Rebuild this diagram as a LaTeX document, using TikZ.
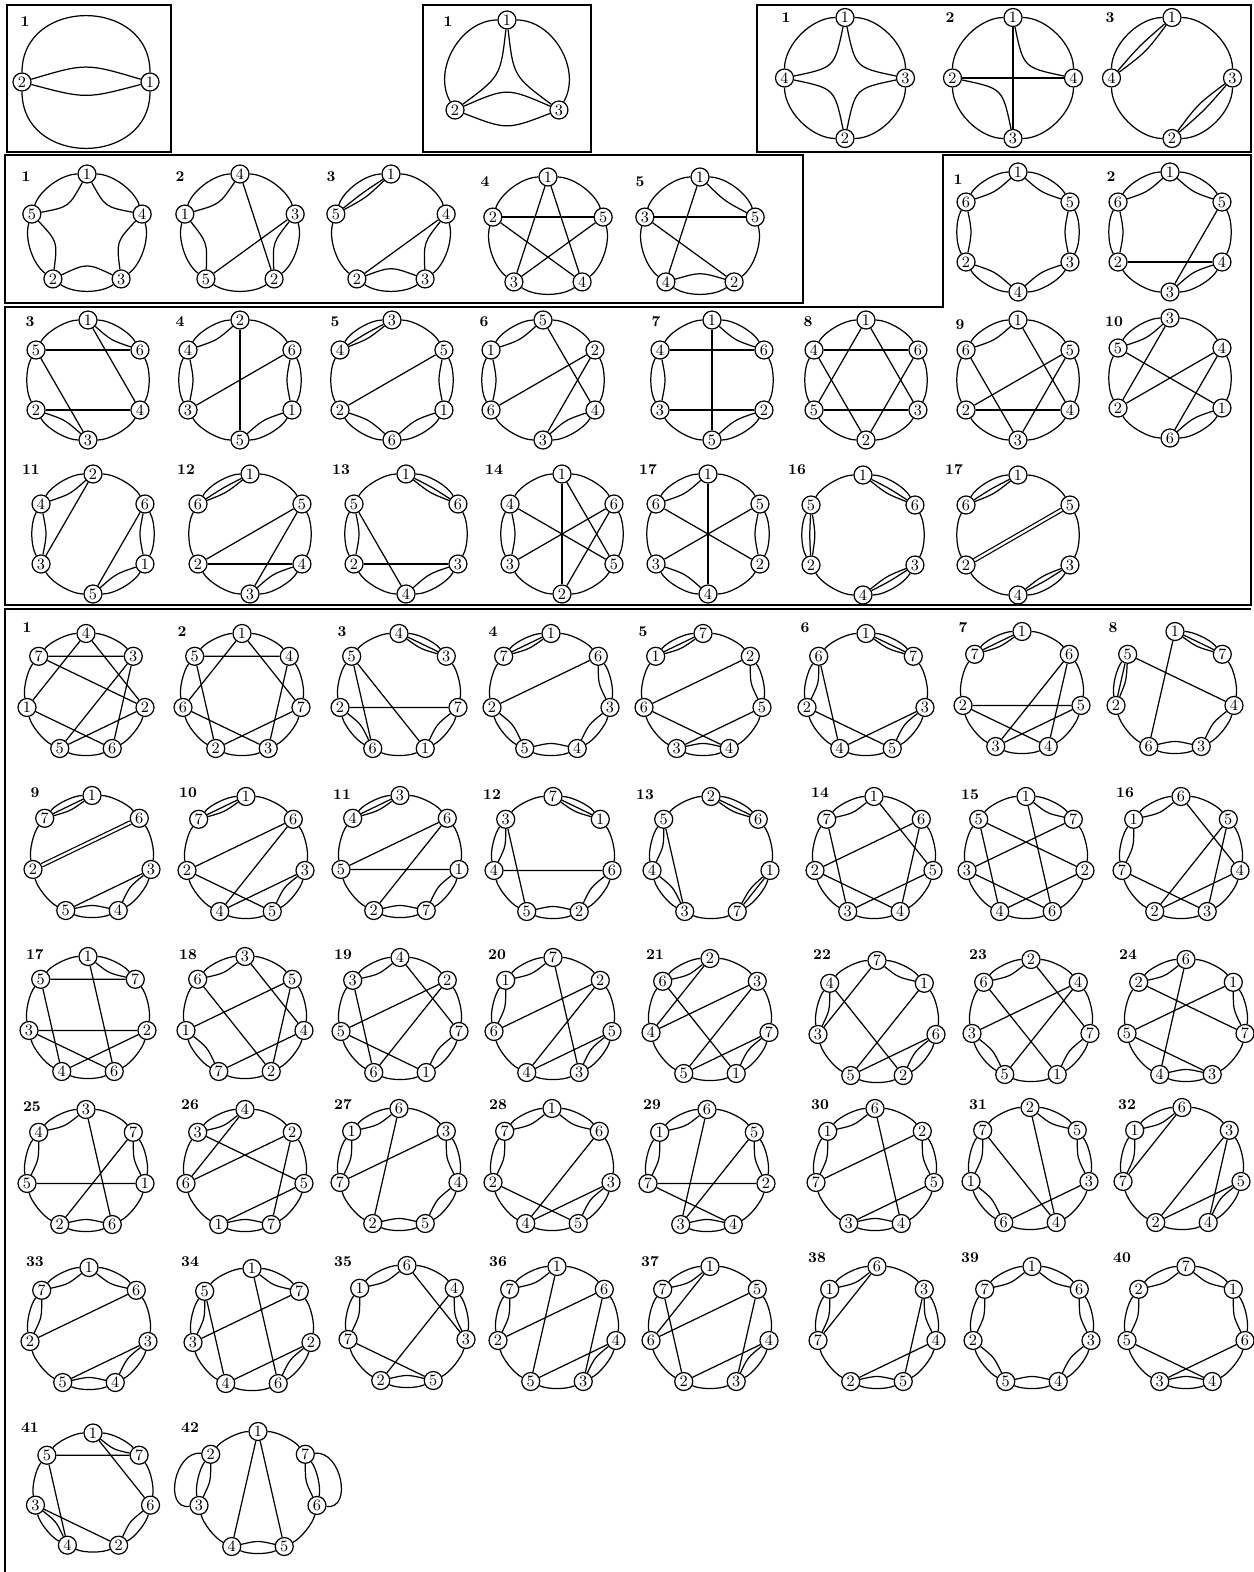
\documentclass[tikz,border=0pt]{standalone}
\usepackage{tikz}
\usetikzlibrary{calc}

\tikzset{
  vtx/.style={circle, draw, fill=white, line width=0.7pt, inner sep=0pt, minimum size=0.36cm, font=\fontsize{9}{9}\selectfont},
  edge/.style={line width=0.7pt},
  dchord/.style={edge, double, double distance=0.045cm},
  num/.style={font=\fontsize{8.5}{9}\selectfont\bfseries},
  frame/.style={line width=0.8pt}
}
\def\sa{-90}

% vertices round a circle, clockwise from the top, and the arcs between them
% #1 arc left out (after that position), #2 name, #3 x, #4 y, #5 radius, #6 labels
\newcommand{\cyc}[6][-1]{%
  \coordinate (#2) at (#3,#4);
  \foreach \v [count=\k] in {#6} {\xdef\nv{\k}}
  \foreach \v [count=\k from 0] in {#6}
    \node[vtx, alias=#2-p\k] (#2-\v) at ($(#2)+({\sa+\k*360/\nv}:#5)$) {\v};
  \pgfmathsetmacro\st{360/\nv}
  \pgfmathsetmacro\ta{atan(4/3*tan(90/\nv))}
  \pgfmathsetmacro\rr{#5*sqrt(1+(4/3*tan(90/\nv))^2)}
  \pgfmathtruncatemacro\last{\nv-1}
  \foreach \k in {0,...,\last} {
    \pgfmathtruncatemacro\j{mod(\k+1,\nv)}
    \ifnum\k=#1\relax\else\ifnum#1<-1\relax\else
      \draw[edge] (#2-p\k) .. controls ($(#2)+({\sa+\k*\st+\ta}:\rr)$)
        and ($(#2)+({\sa+(\k+1)*\st-\ta}:\rr)$) .. (#2-p\j);
    \fi\fi
  }
}
% inner arc between two vertices (negative depth bends outwards)
\newcommand{\lens}[3][0.12cm]{%
  \foreach \a/\b in {#3} {
    \coordinate (lm) at ($(#2-\a)!0.5!(#2-\b)$);
    \draw[edge] (#2-\a) .. controls ($(lm)!#1!(#2)$) .. (#2-\b);
  }
}
\newcommand{\trip}[3][0.09cm]{\lens[-0.03cm]{#2}{#3}\lens[#1]{#2}{#3}}
\newcommand{\chords}[2]{\foreach \a/\b in {#2} \draw[edge] (#1-\a) -- (#1-\b);}

\begin{document}
\begin{tikzpicture}[x=0.02cm, y=-0.02cm]
\fill[white] (0,0) rectangle (1254,1572);
\useasboundingbox (0,0) rectangle (1254,1572);

% frames
\draw[frame] (7,5) rectangle (171,152);
\draw[frame] (423,5) rectangle (591,152);
\draw[frame] (757,5) rectangle (1251,152);
\draw[frame] (5,155) rectangle (803,303);
\draw[frame] (943,155) -- (1251,155) -- (1251,605) -- (5,605) -- (5,307) -- (943,307) -- cycle;
\draw[frame] (5,1572) -- (5,609) -- (1251,609);

% two vertices
\node[num] (n2-no) at (25,22) {1};
\def\sa{0}
\cyc{n2}{86}{82}{64}{1,2}
\def\sa{-90}
\draw[edge] (n2-2) .. controls (86,63) .. (n2-1);
\draw[edge] (n2-2) .. controls (86,99) .. (n2-1);

% three vertices
\node[num] (n3-no) at (448,22) {1};
\cyc[1]{n3}{507}{80}{60}{1,3,2}
\lens[-0.4cm]{n3}{3/2}
\lens[0.45cm]{n3}{1/3,3/2,2/1}

% four vertices
\node[num] (q1-no) at (786,18) {1};
\cyc{q1}{845}{78}{60.5}{1,3,2,4}
\lens[0.56cm]{q1}{1/3,3/2,2/4,4/1}
\node[num] (q2-no) at (950,18) {2};
\cyc{q2}{1013}{78}{60.5}{1,4,3,2}
\lens[0.56cm]{q2}{1/4,2/3}
\chords{q2}{1/3,2/4}
\node[num] (q3-no) at (1110,18) {3};
\cyc{q3}{1172}{78}{60.5}{1,3,2,4}
\lens[-0.06cm]{q3}{4/1,3/2}
\lens[0.12cm]{q3}{4/1,3/2}

% five vertices
\node[num] (f1-no) at (26,177) {1};
\cyc{f1}{87}{232}{58}{1,4,3,2,5}
\lens[0.32cm]{f1}{1/4,4/3,3/2,2/5,5/1}
\node[num] (f2-no) at (180,177) {2};
\cyc{f2}{240}{232}{58}{4,3,2,5,1}
\lens[0.25cm]{f2}{1/4,1/5,3/2}
\chords{f2}{4/2,3/5}
\node[num] (f3-no) at (331,177) {3};
\cyc{f3}{391}{232}{58}{1,4,3,2,5}
\trip{f3}{1/5}
\lens[0.25cm]{f3}{4/3,3/2}
\chords{f3}{4/2}
\node[num] (f4-no) at (485,182) {4};
\cyc{f4}{548}{235}{58}{1,5,4,3,2}
\chords{f4}{2/5,1/3,1/4,2/4,5/3}
\node[num] (f5-no) at (640,182) {5};
\cyc{f5}{700}{235}{58}{1,5,2,4,3}
\lens[0.1cm]{f5}{1/5}
\lens[0.2cm]{f5}{4/2}
\chords{f5}{3/5,1/4,3/2}

% six vertices
\node[num] (s1-no) at (958,180) {1};
\cyc{s1}{1018}{232}{60}{1,5,3,4,2,6}
\lens{s1}{1/5,5/3,3/4,4/2,2/6,6/1}
\node[num] (s2-no) at (1111,177) {2};
\cyc{s2}{1170}{232}{60}{1,5,4,3,2,6}
\lens{s2}{1/5,6/1,6/2,4/3}
\chords{s2}{2/4,5/3}
\node[num] (s3-no) at (30,322) {3};
\cyc{s3}{88}{380}{60}{1,6,4,3,2,5}
\lens{s3}{1/6,2/3}
\chords{s3}{5/6,2/4,1/4,5/3}
\node[num] (s4-no) at (180,322) {4};
\cyc{s4}{240}{380}{60}{2,6,1,5,3,4}
\lens{s4}{4/2,6/1,1/5,4/3}
\chords{s4}{2/5,6/3}
\node[num] (s5-no) at (335,322) {5};
\cyc{s5}{392}{380}{60}{3,5,1,6,2,4}
\trip{s5}{4/3}
\lens{s5}{5/1,1/6,6/2}
\chords{s5}{5/2}
\node[num] (s6-no) at (484,322) {6};
\cyc{s6}{543}{380}{60}{5,2,4,3,6,1}
\lens{s6}{1/5,1/6,4/3}
\chords{s6}{5/4,2/6,2/3}
\node[num] (s7-no) at (656,322) {7};
\cyc{s7}{712}{380}{60}{1,6,2,5,3,4}
\lens{s7}{1/6,4/3,5/2}
\chords{s7}{4/6,3/2,1/5}
\node[num] (s8-no) at (808,322) {8};
\cyc{s8}{866}{380}{60}{1,6,3,2,5,4}
\chords{s8}{4/6,5/3,1/5,1/3,4/2,6/2}
\node[num] (s9-no) at (960,325) {9};
\cyc{s9}{1018}{380}{60}{1,5,4,3,2,6}
\lens{s9}{6/1}
\chords{s9}{1/4,6/3,5/2,5/3,2/4}
\node[num] (s10-no) at (1114,322) {10};
\cyc{s10}{1170}{378}{60}{3,4,1,6,2,5}
\lens{s10}{5/3,1/6}
\chords{s10}{3/2,5/1,4/2,4/6}
\node[num] (s11-no) at (31,470) {11};
\cyc{s11}{93}{534}{60}{2,6,1,5,3,4}
\lens{s11}{4/2,4/3,6/1,1/5}
\chords{s11}{2/3,6/5}
\node[num] (s12-no) at (186,470) {12};
\cyc{s12}{250}{534}{60}{1,5,4,3,2,6}
\trip{s12}{6/1}
\lens{s12}{4/3}
\chords{s12}{5/2,5/3,2/4}
\node[num] (s13-no) at (341,470) {13};
\cyc{s13}{406}{534}{60}{1,6,3,4,2,5}
\trip{s13}{1/6}
\lens{s13}{5/2,4/3}
\chords{s13}{5/4,2/3}
\node[num] (s14-no) at (494,470) {14};
\cyc{s14}{562}{534}{60}{1,6,5,2,3,4}
\lens{s14}{4/3}
\chords{s14}{1/5,1/2,4/5,6/3,6/2}
\node[num] (s15-no) at (648,470) {17};
\cyc{s15}{708}{534}{60}{1,5,2,4,3,6}
\lens{s15}{6/1,5/2,3/4}
\chords{s15}{1/4,6/2,5/3}
\node[num] (s16-no) at (797,470) {16};
\cyc{s16}{863}{535}{60}{1,6,3,4,2,5}
\trip{s16}{1/6,3/4,5/2}
\node[num] (s17-no) at (954,470) {17};
\cyc{s17}{1018}{535}{60}{1,5,3,4,2,6}
\trip{s17}{6/1,3/4}
\draw[dchord] (s17-2) -- (s17-5);

% seven vertices, first row
\node[num] (h1-no) at (27,628) {1};
\cyc[1]{h1}{86}{694}{60.5}{4,3,2,6,5,1,7}
\chords{h1}{7/3,7/2,4/1,4/2,3/5,3/6,1/6,5/2}
\node[num] (h2-no) at (182,632) {2};
\cyc{h2}{242}{694}{60.5}{1,4,7,3,2,6,5}
\chords{h2}{5/4,1/6,1/7,5/2,4/3,6/3,2/7}
\node[num] (h3-no) at (342,632) {3};
\cyc{h3}{399}{694}{60.5}{4,3,7,1,6,2,5}
\trip{h3}{4/3}
\lens{h3}{7/1,2/6}
\chords{h3}{2/7,5/6,5/1}
\node[num] (h4-no) at (493,632) {4};
\cyc{h4}{551}{694}{60.5}{1,6,3,4,5,2,7}
\trip{h4}{7/1}
\lens{h4}{6/3,3/4,4/5,5/2}
\chords{h4}{2/6}
\node[num] (h5-no) at (643,632) {5};
\cyc{h5}{703}{694}{60.5}{7,2,5,4,3,6,1}
\trip{h5}{1/7}
\lens{h5}{2/5,3/4}
\chords{h5}{2/6,6/4,3/5}
\node[num] (h6-no) at (805,628) {6};
\cyc{h6}{866}{694}{60.5}{1,7,3,5,4,2,6}
\trip{h6}{1/7}
\lens{h6}{6/2,3/5}
\chords{h6}{6/4,2/5,4/3}
\node[num] (h7-no) at (963,628) {7};
\cyc{h7}{1022}{692}{60.5}{1,6,5,4,3,2,7}
\trip{h7}{7/1}
\chords{h7}{2/5,2/4,6/3,6/4,5/3}
\node[num] (h8-no) at (1113,628) {8};
\cyc[6]{h8}{1175}{692}{60.5}{1,7,4,3,6,2,5}
\trip{h8}{1/7,5/2}
\lens{h8}{4/3,6/3}
\chords{h8}{1/6,5/4}

% second row
\node[num] (h9-no) at (35,793) {9};
\cyc{h9}{92}{856}{60.5}{1,6,3,4,5,2,7}
\trip{h9}{7/1}
\lens{h9}{3/4,5/4}
\chords{h9}{5/3}
\draw[dchord] (h9-2) -- (h9-6);
\node[num] (h10-no) at (188,793) {10};
\cyc{h10}{246}{857}{60.5}{1,6,3,5,4,2,7}
\trip{h10}{7/1}
\lens{h10}{3/5}
\chords{h10}{2/6,6/4,2/5,4/3}
\node[num] (h11-no) at (342,795) {11};
\cyc{h11}{400}{856}{60.5}{3,6,1,7,2,5,4}
\trip{h11}{4/3}
\lens{h11}{1/7,2/7}
\chords{h11}{5/6,5/1,2/6}
\node[num] (h12-no) at (492,795) {12};
\cyc{h12}{553}{857}{60.5}{7,1,6,2,5,4,3}
\trip{h12}{7/1}
\lens{h12}{3/4,6/2,5/2}
\chords{h12}{4/6,3/5}
\node[num] (h13-no) at (645,795) {13};
\cyc{h13}{711}{857}{60.5}{2,6,1,7,3,4,5}
\trip{h13}{2/6,1/7}
\lens{h13}{5/4,4/3}
\chords{h13}{5/3}
\node[num] (h14-no) at (820,793) {14};
\cyc{h14}{874}{857}{60.5}{1,6,5,4,3,2,7}
\lens{h14}{7/1}
\chords{h14}{1/5,2/6,7/3,2/4,3/5,6/4}
\node[num] (h15-no) at (970,795) {15};
\cyc{h15}{1026}{857}{60.5}{1,7,2,6,4,3,5}
\lens{h15}{1/7}
\chords{h15}{1/6,5/2,5/4,7/3,3/6,4/2}
\node[num] (h16-no) at (1125,793) {16};
\cyc{h16}{1181}{857}{60.5}{6,5,4,3,2,7,1}
\lens{h16}{1/6,1/7}
\chords{h16}{6/4,5/2,5/3,7/3,2/4}

% third row
\node[num] (h17-no) at (35,955) {17};
\cyc{h17}{88}{1017}{60.5}{1,7,2,6,4,3,5}
\lens{h17}{1/7}
\chords{h17}{5/7,1/6,3/2,5/4,3/6,4/2}
\node[num] (h18-no) at (188,955) {18};
\cyc{h18}{245}{1017}{60.5}{3,5,4,2,7,1,6}
\lens{h18}{6/3,1/7}
\chords{h18}{3/4,5/1,5/2,6/2,4/7}
\node[num] (h19-no) at (343,955) {19};
\cyc{h19}{400}{1018}{60.5}{4,2,7,1,6,5,3}
\lens{h19}{3/4,7/1}
\chords{h19}{4/7,2/5,2/6,3/6,5/1}
\node[num] (h20-no) at (497,955) {20};
\cyc{h20}{553}{1018}{60.5}{7,2,5,3,4,6,1}
\lens{h20}{1/7,1/6,5/3}
\chords{h20}{7/3,2/6,2/4,5/4}
\node[num] (h21-no) at (655,955) {21};
\cyc{h21}{710}{1019}{60.5}{2,3,7,1,5,4,6}
\lens{h21}{6/2,7/1}
\chords{h21}{2/4,6/1,3/4,3/5,7/5}
\node[num] (h22-no) at (822,955) {22};
\cyc{h22}{877}{1021}{60.5}{7,1,6,2,5,3,4}
\lens{h22}{7/1,4/3,6/2}
\chords{h22}{7/3,4/2,1/5,6/5}
\node[num] (h23-no) at (978,955) {23};
\cyc{h23}{1031}{1020}{60.5}{2,4,7,1,5,3,6}
\lens{h23}{6/2,7/1,3/5}
\chords{h23}{2/7,6/1,4/3,4/5}
\node[num] (h24-no) at (1128,955) {24};
\cyc{h24}{1186}{1020}{60.5}{6,1,7,3,4,5,2}
\lens{h24}{2/6,1/7,4/3}
\chords{h24}{6/4,2/7,1/5,5/3}

% fourth row
\node[num] (h25-no) at (32,1107) {25};
\cyc{h25}{86}{1170}{60.5}{3,7,1,6,2,5,4}
\lens{h25}{4/3,4/5,7/1,2/6}
\chords{h25}{5/1,3/6,7/2}
\node[num] (h26-no) at (190,1105) {26};
\cyc{h26}{245}{1170}{60.5}{4,2,5,7,1,6,3}
\lens{h26}{3/4,1/7}
\chords{h26}{4/6,3/5,2/6,2/7,1/5}
\node[num] (h27-no) at (343,1105) {27};
\cyc{h27}{399}{1169}{60.5}{6,3,4,5,2,7,1}
\lens{h27}{1/6,1/7,3/4,4/5,2/5}
\chords{h27}{6/2,3/7}
\node[num] (h28-no) at (498,1105) {28};
\cyc{h28}{552}{1169}{60.5}{1,6,3,5,4,2,7}
\lens{h28}{7/1,1/6,7/2,3/5}
\chords{h28}{6/4,2/5,4/3}
\node[num] (h29-no) at (652,1105) {29};
\cyc[4]{h29}{707}{1170}{60.5}{6,5,2,4,3,7,1}
\lens{h29}{1/6,1/7,5/2,3/4}
\chords{h29}{6/3,5/3,7/2,7/4}
\node[num] (h30-no) at (820,1105) {30};
\cyc{h30}{875}{1169}{60.5}{6,2,5,4,3,7,1}
\lens{h30}{1/6,1/7,2/5,3/4}
\chords{h30}{6/4,2/7,5/3}
\node[num] (h31-no) at (978,1105) {31};
\cyc{h31}{1030}{1168}{60.5}{2,5,3,4,6,1,7}
\lens{h31}{2/5,5/3,7/1,1/6}
\chords{h31}{2/4,7/4,3/6}
\node[num] (h32-no) at (1127,1105) {32};
\cyc{h32}{1182}{1168}{60.5}{6,3,5,4,2,7,1}
\lens{h32}{1/6,1/7,5/4}
\chords{h32}{6/7,3/2,3/4,5/2}

% fifth row
\node[num] (h33-no) at (35,1262) {33};
\cyc{h33}{89}{1328}{60.5}{1,6,3,4,5,2,7}
\lens{h33}{7/1,1/6,7/2,3/4,5/4}
\chords{h33}{2/6,5/3}
\node[num] (h34-no) at (190,1262) {34};
\cyc{h34}{252}{1329}{60.5}{1,7,2,6,4,3,5}
\lens{h34}{1/7,5/3,2/6}
\chords{h34}{1/6,7/3,5/4,2/4}
\node[num] (h35-no) at (343,1262) {35};
\cyc{h35}{407}{1326}{60.5}{6,4,3,5,2,7,1}
\lens{h35}{1/6,1/7,4/3,2/5}
\chords{h35}{6/3,4/2,7/5}
\node[num] (h36-no) at (498,1262) {36};
\cyc{h36}{557}{1327}{60.5}{1,6,4,3,5,2,7}
\lens{h36}{7/1,7/2,4/3}
\chords{h36}{1/5,6/2,6/3,4/5}
\node[num] (h37-no) at (650,1262) {37};
\cyc{h37}{710}{1327}{60.5}{1,5,4,3,2,6,7}
\lens{h37}{7/1,4/3}
\chords{h37}{1/6,7/2,6/5,5/3,4/2}
\node[num] (h38-no) at (817,1258) {38};
\cyc{h38}{877}{1327}{60.5}{6,3,4,5,2,7,1}
\lens{h38}{1/6,1/7,3/4,2/5}
\chords{h38}{6/7,3/5,4/2}
\node[num] (h39-no) at (970,1258) {39};
\cyc{h39}{1032}{1327}{60.5}{1,6,3,4,5,2,7}
\lens{h39}{1/6,6/3,3/4,4/5,5/2,2/7,7/1}
\node[num] (h40-no) at (1122,1258) {40};
\cyc{h40}{1186}{1327}{60.5}{7,1,6,4,3,5,2}
\lens{h40}{2/7,7/1,1/6,2/5,3/4}
\chords{h40}{5/4,6/3}

% last row
\node[num] (h41-no) at (30,1428) {41};
\cyc{h41}{93}{1492}{59}{1,7,6,2,4,3,5}
\lens{h41}{1/7,6/2,3/4}
\chords{h41}{5/7,1/6,5/4,3/2}
\node[num] (h42-no) at (190,1428) {42};
\cyc{h42}{258}{1492}{60.5}{1,7,6,5,4,3,2}
\lens{h42}{4/5,2/3,7/6}
\draw[edge] (h42-2) .. controls ($(h42-2)+(-36,-4)$) and ($(h42-3)+(-36,4)$) .. (h42-3);
\draw[edge] (h42-7) .. controls ($(h42-7)+(36,-4)$) and ($(h42-6)+(36,4)$) .. (h42-6);
\chords{h42}{1/4,1/5}
\end{tikzpicture}
\end{document}
